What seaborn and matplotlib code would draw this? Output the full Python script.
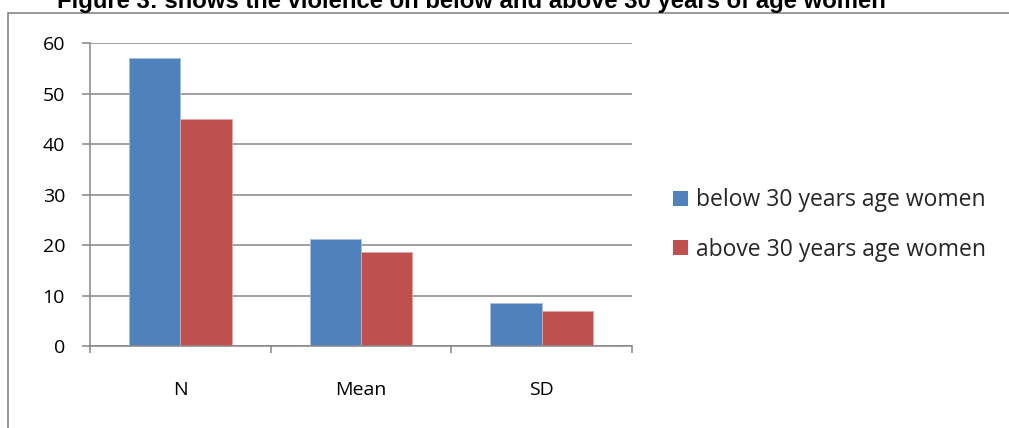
import matplotlib
matplotlib.use("Agg")
import matplotlib.pyplot as plt
from matplotlib.patches import Rectangle
from matplotlib.ticker import FixedLocator
import pandas as pd
import seaborn as sns

# Summary statistics of violence scores by age group
stats = ["N", "Mean", "SD"]
below_30 = [57, 21.3, 8.5]
above_30 = [45, 18.7, 7.0]
groups = ["below 30 years age women", "above 30 years age women"]
colors = ["#4F81BD", "#C0504D"]
edge_colors = ["#A7C0DE", "#E0A8A6"]
title = "Figure 3: shows the violence on below and above 30 years of age women"

df = pd.DataFrame({
    "stat": stats * 2,
    "value": below_30 + above_30,
    "group": [groups[0]] * len(stats) + [groups[1]] * len(stats),
})

sns.set_theme(style="white")
plt.rcParams["font.family"] = ["Open Sans", "DejaVu Sans"]

W, H, DPI = 1009, 428, 100
fig = plt.figure(figsize=(W / DPI, H / DPI), dpi=DPI)
fig.patch.set_facecolor("white")

def fx(px):
    return px / W

def fy(py):
    return 1 - py / H

ax = fig.add_axes([fx(90), fy(346), fx(632) - fx(90), fy(43.3) - fy(346)])

sns.barplot(data=df, x="stat", y="value", hue="group", order=stats,
            hue_order=groups, palette=colors, width=0.57, gap=0,
            saturation=1, linewidth=0, ax=ax)

for cont, ec in zip(ax.containers, edge_colors):
    for bar in cont:
        bar.set_edgecolor(ec)
        bar.set_linewidth(0.6)

grid_color = "#868686"
ax.set_ylim(0, 60)
ax.set_xlim(-0.5, 2.5)
ax.set_yticks(range(0, 61, 10))
ax.yaxis.grid(True, color=grid_color, linewidth=1.1)
ax.set_axisbelow(True)
ax.set_xlabel("")
ax.set_ylabel("")

# tick marks at category boundaries, labels at category centres
ax.xaxis.set_major_locator(FixedLocator([-0.5, 0.5, 1.5, 2.5]))
ax.xaxis.set_major_formatter(plt.NullFormatter())
ax.xaxis.set_minor_locator(FixedLocator([0, 1, 2]))
ax.xaxis.set_minor_formatter(plt.FixedFormatter(stats))
ax.tick_params(axis="x", which="major", direction="out", length=5,
               width=1.1, color=grid_color, bottom=True)
ax.tick_params(axis="x", which="minor", length=0, pad=25, labelsize=14,
               labelcolor="black", bottom=True)
ax.tick_params(axis="y", direction="out", length=6, width=1.1,
               color=grid_color, left=True, pad=12, labelsize=14,
               labelcolor="black")

for side in ["top", "right"]:
    ax.spines[side].set_visible(False)
for side in ["left", "bottom"]:
    ax.spines[side].set_color(grid_color)
    ax.spines[side].set_linewidth(1.1)

handles, labels = ax.get_legend_handles_labels()
if ax.get_legend() is not None:
    ax.get_legend().remove()
fig.legend(handles, labels, loc="center left",
           bbox_to_anchor=(fx(673), fy(225)), frameon=False,
           fontsize=16.5, handlelength=0.67, handleheight=0.65,
           handletextpad=0.35, labelspacing=1.1, borderpad=0,
           borderaxespad=0)

# chart-area frame
fig.add_artist(Rectangle((fx(8), -0.1), 1.2, fy(13) + 0.1,
                         transform=fig.transFigure, fill=False,
                         edgecolor=grid_color, linewidth=1.2))

fig.text(fx(57), fy(8.3), title, ha="left", va="baseline",
         fontsize=17.2, fontweight="bold",
         family=["Liberation Sans", "DejaVu Sans"], color="black")

fig.savefig("out.png", dpi=DPI, facecolor="white")
